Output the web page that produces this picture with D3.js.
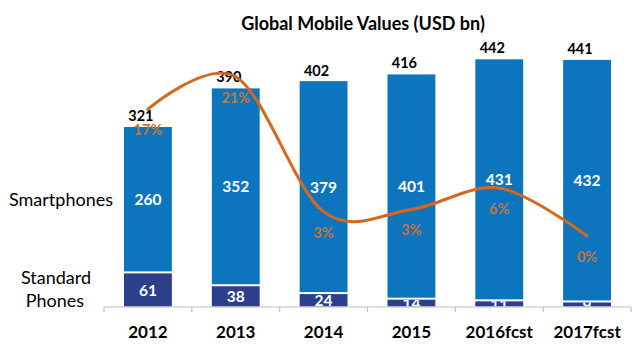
<!DOCTYPE html>
<html><head><meta charset="utf-8">
<script src="https://cdn.jsdelivr.net/npm/d3@7/dist/d3.min.js"></script>
<style>
html,body{margin:0;padding:0;background:#fff;}
svg{display:block;font-family:Lato,"Open Sans",sans-serif;}
</style></head>
<body><svg id="c" width="640" height="351"></svg>
<script>
const years = ["2012","2013","2014","2015","2016fcst","2017fcst"];
const standard = [61, 38, 24, 14, 11, 9];
const smartphones = [260, 352, 379, 401, 431, 432];
const totals = [321, 390, 402, 416, 442, 441];
const growth = [17, 21.4, 3.1, 3.4, 6.3, -0.2];
const growthLabels = ["17%","21%","3%","3%","6%","0%"];
const title = "Global Mobile Values (USD bn)";

const svg = d3.select("#c");
const x = d3.scaleBand().domain(years).range([104, 631]).paddingInner(0.455).paddingOuter(0.2275);
const y = d3.scaleLinear().domain([0, 500]).range([306.5, 26.9]);
const y2 = d3.scaleLinear().domain([0, 20]).range([234.5, 87.1]);
const bw = x.bandwidth();
const cx = d => x(d) + bw / 2;

const C_SMART = "#0D75BE", C_STD = "#2B3F8A", C_LINE = "#D4681F", C_PCT = "#BD7840";

svg.append("text").attr("x", 363).attr("y", 30).attr("text-anchor", "middle")
  .attr("font-size", 18).attr("font-weight", 700).attr("fill", "#000").text(title);

const defs = svg.append("defs");
const g = svg.append("g");
years.forEach((yr, i) => {
  const s = standard[i], sp = smartphones[i];
  g.append("rect").attr("x", x(yr)).attr("width", bw)
    .attr("y", y(s + sp)).attr("height", y(s) - y(s + sp) - 1)
    .attr("fill", C_SMART);
  g.append("rect").attr("x", x(yr)).attr("width", bw)
    .attr("y", y(s) + 1).attr("height", y(0) - y(s) - 1)
    .attr("fill", C_STD);
  defs.append("clipPath").attr("id", "cp" + i).append("rect")
    .attr("x", x(yr)).attr("width", bw).attr("y", y(s) + 1).attr("height", y(0) - y(s) - 1);
  g.append("text").attr("x", cx(yr)).attr("y", (y(s + sp) + y(s)) / 2).attr("dy", "0.36em")
    .attr("text-anchor", "middle").attr("font-size", 15.5).attr("font-weight", 700)
    .attr("fill", "#fff").text(sp);
  g.append("text").attr("x", cx(yr)).attr("y", (y(s) + y(0)) / 2 + 1).attr("dy", "0.36em")
    .attr("text-anchor", "middle").attr("font-size", 15.5).attr("font-weight", 700)
    .attr("fill", "#fff").attr("clip-path", "url(#cp" + i + ")").text(s);
  g.append("text").attr("x", cx(yr) - 7).attr("y", y(totals[i]) - 6)
    .attr("text-anchor", "middle").attr("font-size", 14.5).attr("font-weight", 700)
    .attr("fill", "#000").text(totals[i]);
  g.append("text").attr("x", cx(yr)).attr("y", y2(growth[i]) + 26)
    .attr("text-anchor", "middle").attr("font-size", 14.5).attr("font-weight", 700)
    .attr("fill", C_PCT).text(growthLabels[i]);
});

const axis = svg.append("g");
axis.append("line").attr("x1", 104).attr("x2", 631).attr("y1", 307).attr("y2", 307)
  .attr("stroke", "#BFBFBF").attr("stroke-width", 1.2);
years.forEach((yr, i) => {
  const bx = x(yr) - (x.step() - bw) / 2;
  axis.append("line").attr("x1", bx).attr("x2", bx).attr("y1", 307).attr("y2", 312)
    .attr("stroke", "#BFBFBF").attr("stroke-width", 1.2);
  axis.append("text").attr("x", cx(yr)).attr("y", 338).attr("text-anchor", "middle")
    .attr("font-size", 17).attr("font-weight", 700).attr("fill", "#000").text(yr);
});
axis.append("line").attr("x1", 631).attr("x2", 631).attr("y1", 307).attr("y2", 312)
  .attr("stroke", "#BFBFBF").attr("stroke-width", 1.2);

const line = d3.line().x((d, i) => cx(years[i])).y(d => y2(d)).curve(d3.curveCardinal.tension(0));
svg.append("path").attr("d", line(growth)).attr("fill", "none")
  .attr("stroke", C_LINE).attr("stroke-width", 3).attr("stroke-linecap", "round");

const lab = svg.append("g").attr("font-size", 18).attr("fill", "#000").attr("text-anchor", "middle");
lab.append("text").attr("x", 61).attr("y", 206).text("Smartphones");
lab.append("text").attr("x", 56).attr("y", 284).text("Standard");
lab.append("text").attr("x", 55).attr("y", 307).text("Phones");
</script></body></html>
